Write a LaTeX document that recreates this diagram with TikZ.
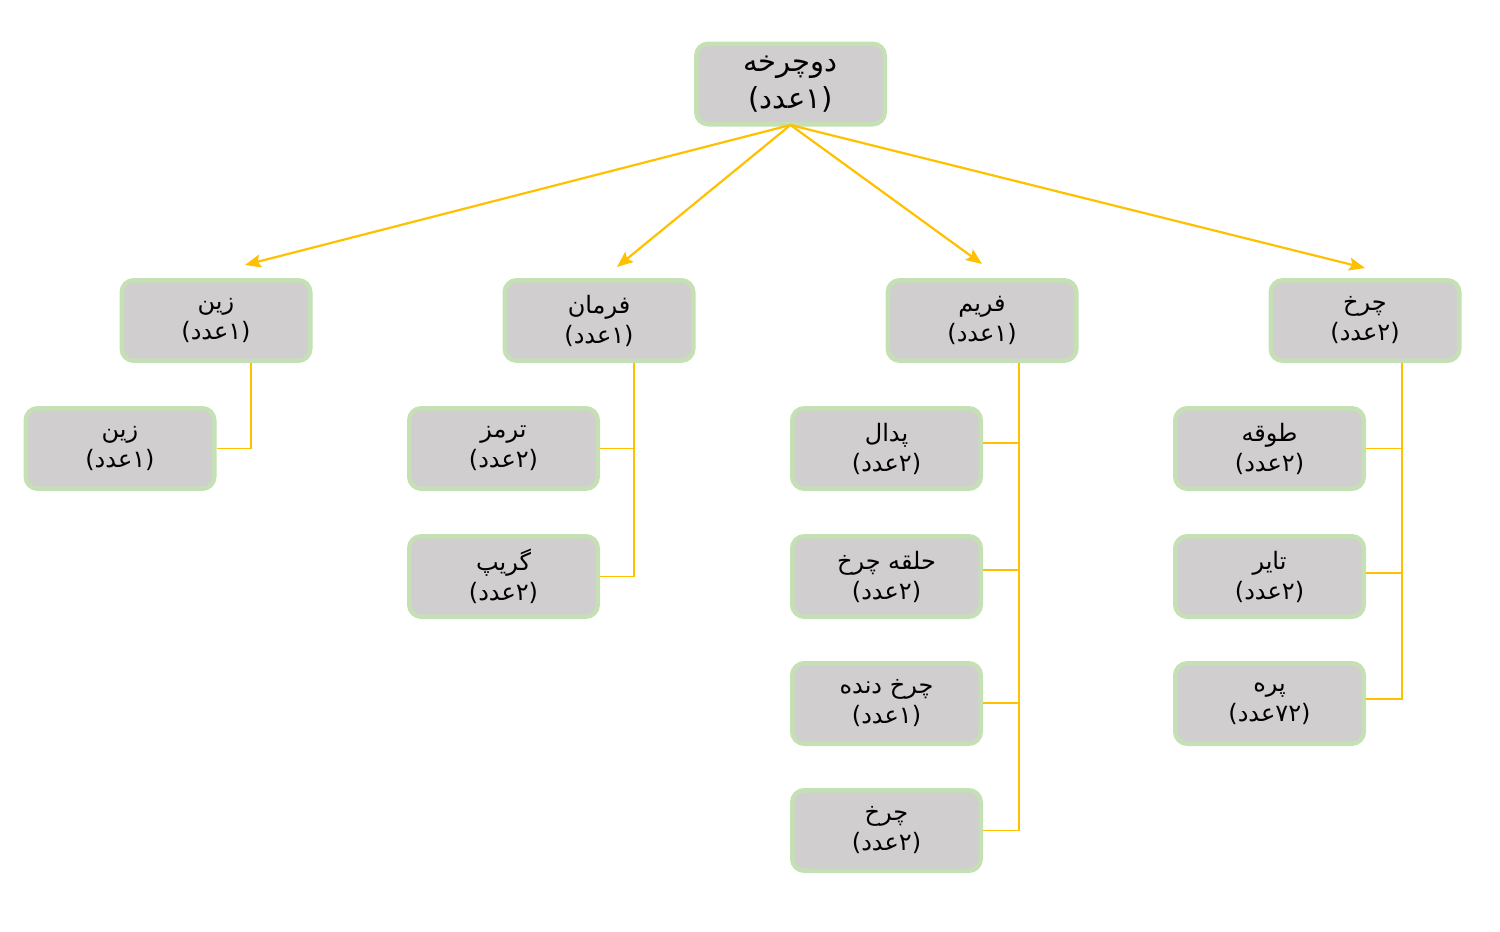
\documentclass[tikz,border=0pt]{standalone}
\usepackage{fontspec}
\usetikzlibrary{arrows.meta}
\newfontfamily\arabicfont[Script=Arabic]{DejaVu Sans}
\TeXXeTstate=1
\definecolor{boxfill}{RGB}{208,206,206}
\definecolor{boxline}{RGB}{197,224,180}
\definecolor{conn}{RGB}{255,192,0}
\newcommand{\rl}[1]{\beginR #1\endR}
\begin{document}
\begin{tikzpicture}[x=1pt,y=-1pt,
  partbox/.style={draw=boxline, line width=4.5pt, fill=boxfill, rounded corners=12pt,
    minimum width=188.5pt, minimum height=80.5pt, inner sep=0pt, align=center,
    font=\arabicfont\fontsize{24}{30}\selectfont},
  rootbox/.style={partbox, font=\arabicfont\fontsize{29}{37}\selectfont},
  arrowline/.style={draw=conn, line width=2.2pt, -{Stealth[length=16pt,width=13pt,inset=3pt]}},
  elbow/.style={draw=conn, line width=1.8pt}]
\useasboundingbox (0,0) rectangle (1500,932);

% root
\node[rootbox] (root) at (790.5,84) {\rl{دوچرخه}\\\rl{(۱عدد)}};

% level 1
\node[partbox] (zin) at (216,320.5) {\rl{زین}\\\rl{(۱عدد)}};
\node[partbox] (farman) at (599,320.5) {\rl{فرمان}\\\rl{(۱عدد)}};
\node[partbox] (frame) at (982,320.5) {\rl{فریم}\\\rl{(۱عدد)}};
\node[partbox] (wheel) at (1365,320.5) {\rl{چرخ}\\\rl{(۲عدد)}};

% level 2
\node[partbox] (zin1) at (120,448.5) {\rl{زین}\\\rl{(۱عدد)}};

\node[partbox] (tormoz) at (503.5,448.5) {\rl{ترمز}\\\rl{(۲عدد)}};
\node[partbox] (grip) at (503.5,576.5) {\rl{گریپ}\\\rl{(۲عدد)}};

\node[partbox] (pedal) at (886.5,448.5) {\rl{پدال}\\\rl{(۲عدد)}};
\node[partbox] (halghe) at (886.5,576.5) {\rl{حلقه چرخ}\\\rl{(۲عدد)}};
\node[partbox] (dande) at (886.5,703.5) {\rl{چرخ دنده}\\\rl{(۱عدد)}};
\node[partbox] (charkh2) at (886.5,830.5) {\rl{چرخ}\\\rl{(۲عدد)}};

\node[partbox] (toghe) at (1269.5,448.5) {\rl{طوقه}\\\rl{(۲عدد)}};
\node[partbox] (tayer) at (1269.5,576.5) {\rl{تایر}\\\rl{(۲عدد)}};
\node[partbox] (pare) at (1269.5,703.5) {\rl{پره}\\\rl{(۷۲عدد)}};

% arrow end points
\coordinate (e1) at (245,265);
\coordinate (e2) at (617,267);
\coordinate (e3) at (982,264);
\coordinate (e4) at (1365,268);
\coordinate (s0) at (790.5,125);

\draw[arrowline] (s0) -- (e1);
\draw[arrowline] (s0) -- (e2);
\draw[arrowline] (s0) -- (e3);
\draw[arrowline] (s0) -- (e4);

% trunks
\coordinate (t1) at (251,363);
\coordinate (t2) at (634,363);
\coordinate (t3) at (1019,363);
\coordinate (t4) at (1402,363);

\draw[elbow] (t1) |- (zin1.east);
\draw[elbow] (t2) |- (tormoz.east);
\draw[elbow] (t2) |- (grip.east);
\draw[elbow] (t3) |- ([yshift=5.5pt]pedal.east);
\draw[elbow] (t3) |- ([yshift=6.5pt]halghe.east);
\draw[elbow] (t3) |- ([yshift=0.5pt]dande.east);
\draw[elbow] (t3) |- (charkh2.east);
\draw[elbow] (t4) |- (toghe.east);
\draw[elbow] (t4) |- ([yshift=3.5pt]tayer.east);
\draw[elbow] (t4) |- ([yshift=4.5pt]pare.east);
\end{tikzpicture}
\end{document}
